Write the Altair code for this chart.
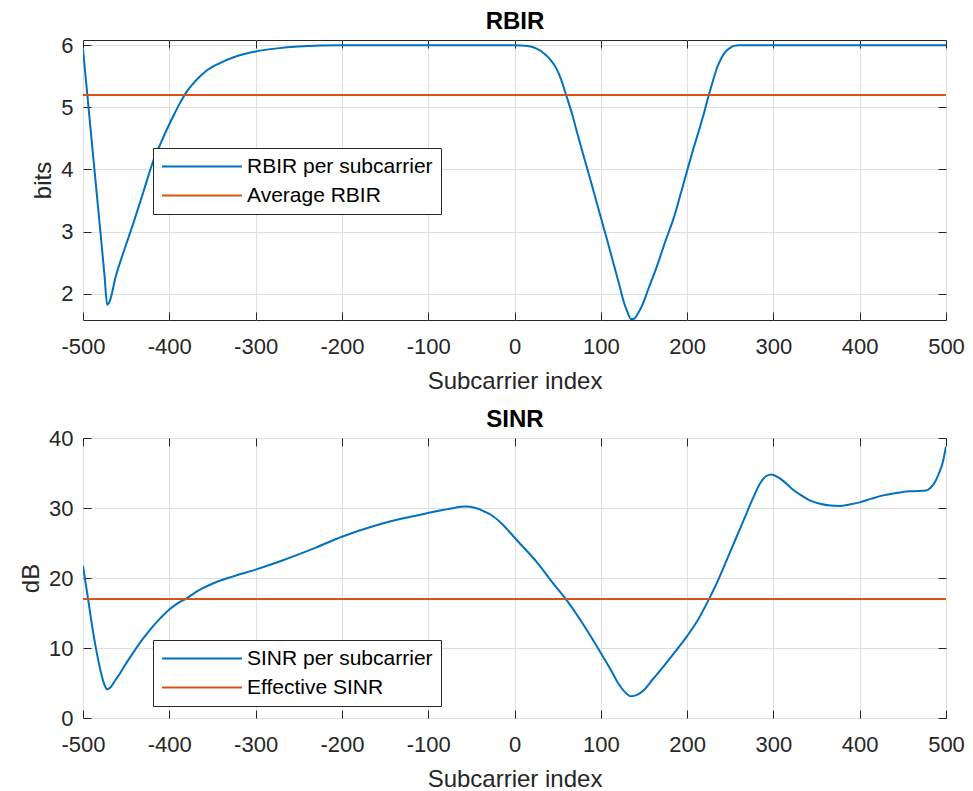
import altair as alt
import pandas as pd

# ---------------- data ----------------
x_ticks = list(range(-500, 501, 100))
rbir_ticks = [2, 3, 4, 5, 6]
sinr_ticks = [0, 10, 20, 30, 40]

rbir_x = [-500, -490, -480, -475, -472, -469, -462, -452, -442, -430, -419, -410,
          -403, -395, -388, -380, -370, -357, -342, -327, -313, -300, -275, -250,
          -225, -200, -100, 0, 15, 25, 35, 42, 48, 54, 60, 67, 73, 80, 85, 92,
          100, 108, 116, 122, 127, 131, 135, 139, 143, 148, 155, 165, 175, 185,
          193, 200, 207, 214, 220, 225, 230, 235, 240, 244, 249, 254, 260, 300,
          400, 500]
rbir_v = [5.94, 4.47, 3.02, 2.28, 1.82, 1.88, 2.28, 2.71, 3.12, 3.64, 4.12, 4.42,
          4.64, 4.87, 5.06, 5.25, 5.42, 5.59, 5.71, 5.80, 5.86, 5.90, 5.95, 5.98,
          5.995, 6.0, 6.0, 6.0, 5.99, 5.95, 5.86, 5.76, 5.64, 5.45, 5.19, 4.88,
          4.57, 4.22, 3.98, 3.63, 3.23, 2.83, 2.42, 2.11, 1.85, 1.70, 1.59, 1.60,
          1.68, 1.81, 2.07, 2.44, 2.85, 3.24, 3.63, 3.98, 4.32, 4.64, 4.93, 5.19,
          5.43, 5.65, 5.80, 5.89, 5.95, 5.99, 6.0, 6.0, 6.0, 6.0]
rbir_avg = 5.20

sinr_x = [-500, -494, -489, -484, -479, -475, -472, -468, -462, -457, -450, -442,
          -430, -419, -410, -400, -390, -380, -365, -346, -327, -300, -269, -231,
          -200, -161, -130, -100, -75, -57, -45, -35, -27, -15, 2, 27, 45, 60, 81,
          100, 112, 120, 128, 135, 142, 150, 160, 173, 187, 200, 213, 225, 236,
          246, 256, 266, 276, 285, 292, 298, 305, 312, 321, 331, 342, 354, 366,
          377, 388, 400, 413, 427, 440, 450, 462, 477, 483, 488, 492, 496, 500]
sinr_v = [21.7, 16.9, 12.8, 9.3, 6.4, 4.7, 4.1, 4.4, 5.5, 6.4, 7.8, 9.3,
          11.4, 13.1, 14.3, 15.5, 16.4, 17.1, 18.3, 19.4, 20.2, 21.2, 22.5, 24.3,
          25.9, 27.5, 28.5, 29.3, 29.9, 30.2, 30.0, 29.5, 29.0, 27.8, 25.5, 22.1,
          19.2, 16.9, 13.1, 9.3, 6.8, 5.0, 3.7, 3.1, 3.3, 4.0, 5.5, 7.4, 9.6, 11.7,
          14.1, 16.9, 19.7, 22.6, 25.5, 28.4, 31.3, 33.6, 34.6, 34.8, 34.4, 33.8,
          32.8, 31.9, 31.1, 30.6, 30.35, 30.3, 30.5, 30.8, 31.3, 31.8, 32.1, 32.3,
          32.4, 32.5, 33.0, 33.9, 35.0, 36.4, 38.8]
sinr_eff = 17.0

rbir_names = ["RBIR per subcarrier", "Average RBIR"]
sinr_names = ["SINR per subcarrier", "Effective SINR"]

# ---------------- style ----------------
FONT = "Liberation Sans"
TXT = "#262626"
GRID = "#DFDFDF"
BLUE = "#0072BD"
ORANGE = "#D95319"
W, H = 863, 280
TICK = 8
LABEL_EXPR = "'' + datum.value"


def panel(title, xs, vs, avg, names, ylab, ydom, yticks, legend_y):
    curve = pd.DataFrame({"x": xs, "v": vs, "series": names[0]})
    flat = pd.DataFrame({"x": [x_ticks[0], x_ticks[-1]], "v": [avg, avg],
                         "series": names[1]})

    color = alt.Color(
        "series:N",
        scale=alt.Scale(domain=names, range=[BLUE, ORANGE]),
        legend=alt.Legend(
            title=None, orient="none", legendX=70, legendY=legend_y,
            symbolType="stroke", symbolSize=6400, symbolStrokeWidth=2,
            clipHeight=21, labelFont=FONT, labelFontSize=21, labelColor="black",
            padding=8, rowPadding=7, labelOffset=4, strokeColor=TXT,
            fillColor="white", cornerRadius=0, labelLimit=400,
        ),
    )
    xscale = alt.Scale(domain=[-500, 500], nice=False, zero=False)
    yscale = alt.Scale(domain=ydom, nice=False, zero=False)

    main = alt.Chart(curve).mark_line(
        strokeWidth=2, interpolate="monotone", clip=True
    ).encode(
        x=alt.X("x:Q", scale=xscale, axis=alt.Axis(
            orient="bottom", offset=-TICK, tickSize=TICK, values=x_ticks,
            grid=True, gridColor=GRID, gridWidth=1, domain=False,
            tickColor=TXT, tickWidth=1, labelFont=FONT, labelFontSize=22,
            labelColor=TXT, labelPadding=16, labelExpr=LABEL_EXPR,
            labelFlush=False, labelOverlap=False, minExtent=0,
            title="Subcarrier index", titleFont=FONT, titleFontSize=24,
            titleFontWeight="normal", titleColor=TXT, titlePadding=12)),
        y=alt.Y("v:Q", scale=yscale, axis=alt.Axis(
            orient="left", offset=-TICK, tickSize=TICK, values=yticks,
            grid=True, gridColor=GRID, gridWidth=1, domain=False,
            tickColor=TXT, tickWidth=1, labelFont=FONT, labelFontSize=22,
            labelColor=TXT, labelPadding=10, labelExpr=LABEL_EXPR,
            labelFlush=False, labelOverlap=False, minExtent=0,
            title=ylab, titleFont=FONT, titleFontSize=24,
            titleFontWeight="normal", titleColor=TXT, titlePadding=5)),
        color=color,
    )

    # top axis carries the panel title; right axis only draws inward ticks
    avg_line = alt.Chart(flat).mark_line(strokeWidth=2, clip=True).encode(
        x=alt.X("x:Q", scale=xscale, axis=alt.Axis(
            orient="top", offset=-TICK, tickSize=TICK, values=x_ticks,
            labels=False, grid=False, domain=False, tickColor=TXT,
            tickWidth=1, minExtent=0,
            title=title, titleFont=FONT, titleFontSize=24,
            titleFontWeight="bold", titleColor="black",
            titleBaseline="alphabetic", titlePadding=11)),
        y=alt.Y("v:Q", scale=yscale, axis=alt.Axis(
            orient="right", offset=-TICK, tickSize=TICK, values=yticks,
            labels=False, grid=False, domain=False, tickColor=TXT,
            tickWidth=1, title=None, minExtent=0)),
        color=color,
    )

    return alt.layer(main, avg_line).resolve_axis(
        x="independent", y="independent"
    ).properties(width=W, height=H)


top = panel("RBIR", rbir_x, rbir_v, rbir_avg, rbir_names, "bits",
            [1.575, 6.085], rbir_ticks, 108)
bottom = panel("SINR", sinr_x, sinr_v, sinr_eff, sinr_names, "dB",
               [0, 40], sinr_ticks, 202)

chart = alt.vconcat(top, bottom, spacing=118, bounds="flush").resolve_scale(
    color="independent"
).properties(
    padding={"left": 11, "top": 1, "right": 0, "bottom": 0},
    background="white",
).configure_view(stroke=TXT, strokeWidth=1)

chart.save("out.html", embed_options={"renderer": "svg", "actions": False})
